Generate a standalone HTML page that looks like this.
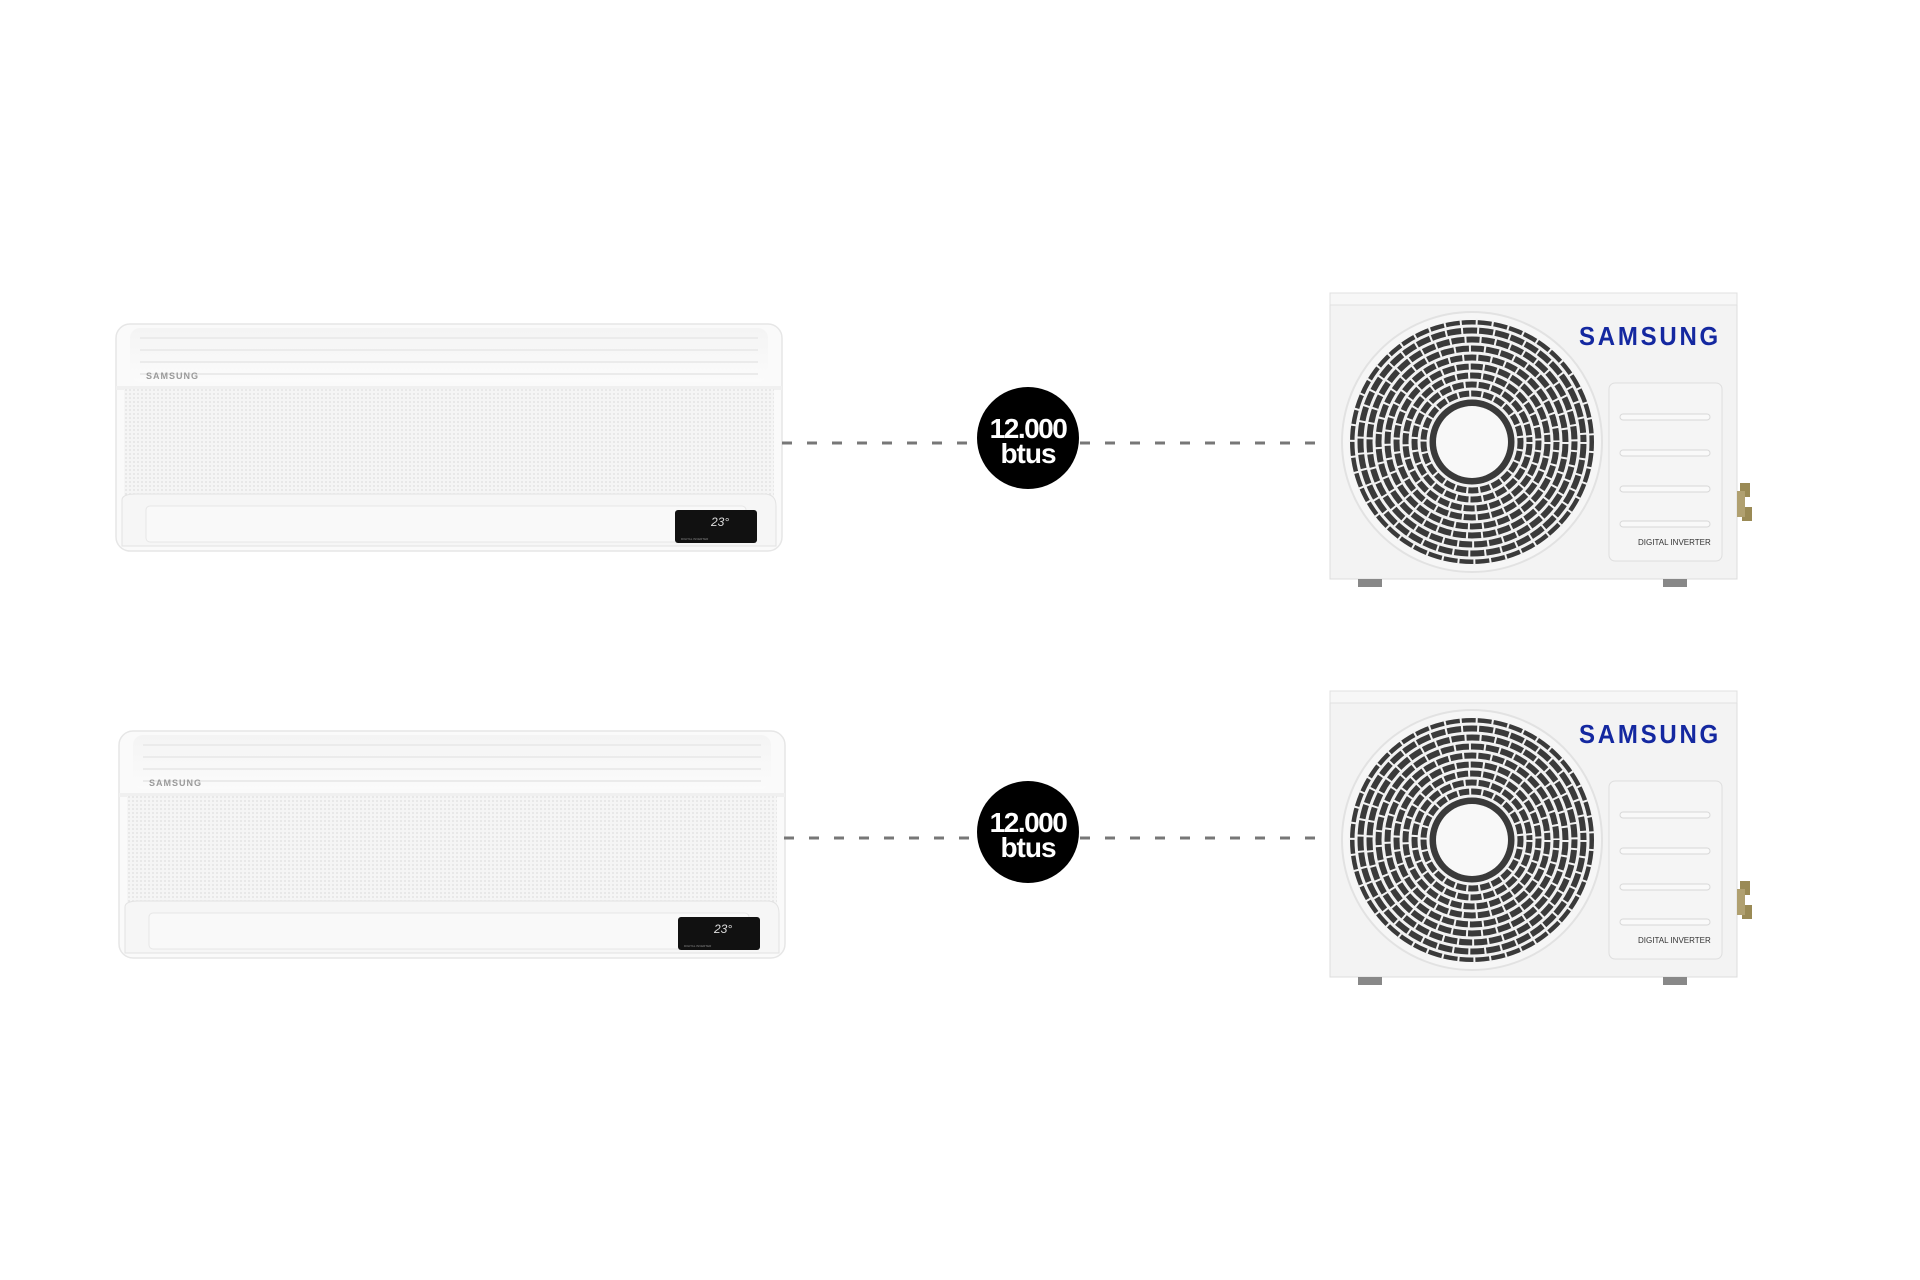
<!DOCTYPE html>
<html><head><meta charset="utf-8"><style>
html,body{margin:0;padding:0;background:#fff;}
svg{display:block;}
</style></head><body>
<svg width="1920" height="1280" viewBox="0 0 1920 1280" xmlns="http://www.w3.org/2000/svg" font-family="Liberation Sans, sans-serif">
<defs>
  <linearGradient id="indoorTop" x1="0" y1="0" x2="0" y2="1">
    <stop offset="0" stop-color="#f4f4f4"/><stop offset="1" stop-color="#fbfbfb"/>
  </linearGradient>
  <pattern id="mesh" width="4" height="4" patternUnits="userSpaceOnUse">
    <rect width="4" height="4" fill="#f5f5f5"/><circle cx="2" cy="2" r="0.9" fill="#e0e0e0"/>
  </pattern>
  <g id="indoor">
    <rect x="0" y="0" width="666" height="227" rx="14" fill="#fafafa" stroke="#e6e6e6" stroke-width="1.5"/>
    <rect x="14" y="4" width="638" height="54" rx="10" fill="url(#indoorTop)"/>
    <g stroke="#ebebeb" stroke-width="2">
      <line x1="24" y1="14" x2="642" y2="14"/><line x1="24" y1="26" x2="642" y2="26"/>
      <line x1="24" y1="38" x2="642" y2="38"/><line x1="24" y1="50" x2="642" y2="50"/>
    </g>
    <rect x="0" y="62" width="666" height="4" fill="#f0f0f0"/>
    <text x="30" y="55" font-size="9" font-weight="bold" fill="#9a9a9a" letter-spacing="1">SAMSUNG</text>
    <rect x="8" y="65" width="650" height="108" fill="url(#mesh)"/>
    <path d="M6 176 Q6 170 20 170 L648 170 Q660 170 660 182 L660 222 L6 222 Z" fill="#f6f6f6" stroke="#e3e3e3"/>
    <rect x="30" y="182" width="600" height="36" rx="4" fill="#f9f9f9" stroke="#e6e6e6"/>
    <rect x="559" y="186" width="82" height="33" rx="3" fill="#111"/>
    <text x="595" y="202" font-size="12" fill="#ddd" font-style="italic">23°</text>
    <text x="565" y="216" font-size="3" fill="#888">DIGITAL INVERTER</text>
  </g>
  <g id="outdoor">
    <rect x="0" y="0" width="407" height="286" fill="#f3f3f3" stroke="#dcdcdc"/>
    <rect x="0" y="0" width="407" height="12" fill="#f7f7f7" stroke="#e0e0e0"/>
    <circle cx="142" cy="149" r="130" fill="#f6f6f6" stroke="#e2e2e2" stroke-width="2"/>
    <circle cx="142" cy="149" r="122" fill="#3a3a3a"/>
    <g fill="none" stroke="#f2f2f2" stroke-width="3">
      <circle cx="142" cy="149" r="116"/><circle cx="142" cy="149" r="107"/><circle cx="142" cy="149" r="98"/>
      <circle cx="142" cy="149" r="89"/><circle cx="142" cy="149" r="80"/><circle cx="142" cy="149" r="71"/>
      <circle cx="142" cy="149" r="62"/><circle cx="142" cy="149" r="53"/><circle cx="142" cy="149" r="44"/>
    </g>
    <g fill="none" stroke="#f2f2f2" stroke-width="3">
      <circle cx="142" cy="149" r="111" stroke-dasharray="2 14" stroke-width="9"/>
      <circle cx="142" cy="149" r="93" stroke-dasharray="2 13" stroke-width="9"/>
      <circle cx="142" cy="149" r="75" stroke-dasharray="2 12" stroke-width="9"/>
      <circle cx="142" cy="149" r="57" stroke-dasharray="2 11" stroke-width="9"/>
      <circle cx="142" cy="149" r="102" stroke-dasharray="2 13" stroke-dashoffset="7" stroke-width="9"/>
      <circle cx="142" cy="149" r="84" stroke-dasharray="2 12" stroke-dashoffset="6" stroke-width="9"/>
      <circle cx="142" cy="149" r="66" stroke-dasharray="2 11" stroke-dashoffset="5" stroke-width="9"/>
      <circle cx="142" cy="149" r="48" stroke-dasharray="2 10" stroke-dashoffset="5" stroke-width="9"/>
      <circle cx="142" cy="149" r="120" stroke-dasharray="2 14" stroke-dashoffset="7" stroke-width="7"/>
    </g>
    <circle cx="142" cy="149" r="36" fill="#f8f8f8"/>
    <text x="249" y="52" font-size="26" font-weight="bold" fill="#1428a0" letter-spacing="3" textLength="142" lengthAdjust="spacingAndGlyphs">SAMSUNG</text>
    <rect x="279" y="90" width="113" height="178" rx="6" fill="#f5f5f5" stroke="#dedede"/>
    <g fill="#f9f9f9" stroke="#d8d8d8">
      <rect x="290" y="121" width="90" height="6" rx="3"/><rect x="290" y="157" width="90" height="6" rx="3"/>
      <rect x="290" y="193" width="90" height="6" rx="3"/><rect x="290" y="228" width="90" height="6" rx="3"/>
    </g>
    <text x="308" y="252" font-size="8" fill="#333">DIGITAL INVERTER</text>
    <rect x="410" y="190" width="10" height="14" fill="#9a8a55"/>
    <rect x="412" y="214" width="10" height="14" fill="#9a8a55"/>
    <rect x="407" y="198" width="8" height="26" fill="#b0a070"/>
    <rect x="28" y="286" width="24" height="8" fill="#888"/>
    <rect x="333" y="286" width="24" height="8" fill="#888"/>
  </g>
</defs>

<!-- Row 1 -->
<use href="#indoor" x="116" y="324"/>
<line x1="782" y1="443" x2="976" y2="443" stroke="#777" stroke-width="3" stroke-dasharray="10 15"/>
<line x1="1080" y1="443" x2="1325" y2="443" stroke="#777" stroke-width="3" stroke-dasharray="10 15"/>
<circle cx="1028" cy="438" r="51" fill="#000"/>
<text x="1028" y="438" font-size="28" font-weight="bold" fill="#fff" text-anchor="middle" letter-spacing="-1.5">12.000</text>
<text x="1028" y="463" font-size="28" font-weight="bold" fill="#fff" text-anchor="middle" letter-spacing="-1">btus</text>
<use href="#outdoor" x="1330" y="293"/>

<!-- Row 2 -->
<use href="#indoor" x="119" y="731"/>
<line x1="784" y1="838" x2="976" y2="838" stroke="#777" stroke-width="3" stroke-dasharray="10 15"/>
<line x1="1080" y1="838" x2="1325" y2="838" stroke="#777" stroke-width="3" stroke-dasharray="10 15"/>
<circle cx="1028" cy="832" r="51" fill="#000"/>
<text x="1028" y="832" font-size="28" font-weight="bold" fill="#fff" text-anchor="middle" letter-spacing="-1.5">12.000</text>
<text x="1028" y="857" font-size="28" font-weight="bold" fill="#fff" text-anchor="middle" letter-spacing="-1">btus</text>
<use href="#outdoor" x="1330" y="691"/>
</svg>
</body></html>
